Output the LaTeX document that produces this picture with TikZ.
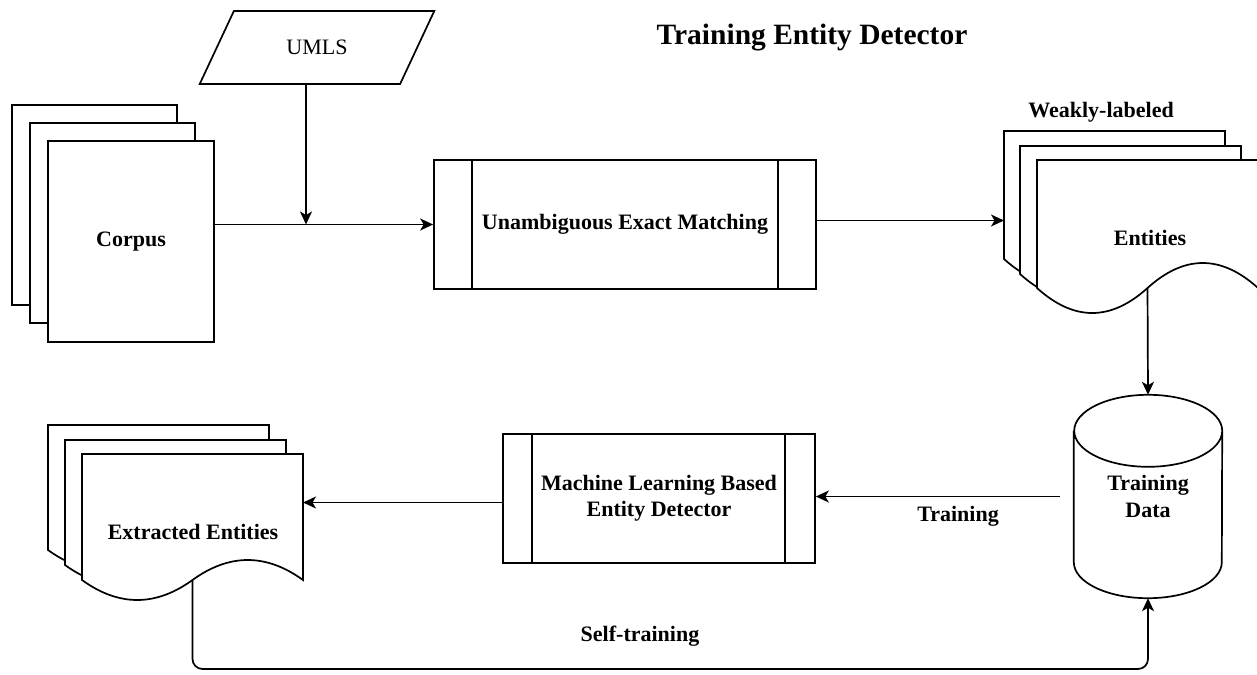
\documentclass[tikz,border=0pt]{standalone}
\usepackage{fontspec}
\setmainfont{Liberation Serif}
\usetikzlibrary{arrows.meta}
\usetikzlibrary{calc}
\usetikzlibrary{shapes.geometric}

\tikzset{
  flow/.style={line width=1.7pt,-{Stealth[length=13pt,width=12pt,inset=3.5pt]}},
  sheet/.style={draw,line width=1.7pt,fill=white},
  txt/.style={font=\fontsize{22}{26}\selectfont\bfseries,align=center},
  procbox/.style={draw,line width=1.7pt,minimum height=129pt,txt},
  bar/.style={line width=1.7pt},
}

% wavy document sheet: name, left, top, width, height, bulge
\newcommand{\wavesheet}[6]{%
  \draw[sheet] (#2,#3) -- ({#2+#4},#3) -- ({#2+#4},{#3+#5})
    .. controls +({-#4/6},{-4*#6/3}) and +({#4/6},{-4*#6/3}) .. ({#2+#4/2},{#3+#5})
    .. controls +({-#4/6},{4*#6/3}) and +({#4/6},{4*#6/3}) .. (#2,{#3+#5})
    -- cycle;
  \coordinate (#1-s) at ({#2+#4/2},{#3+#5});
  \coordinate (#1-w) at (#2,{#3+#5/2});
  \coordinate (#1-e) at ({#2+#4},{#3+#5/2});
}

\begin{document}
\begin{tikzpicture}[x=1pt,y=-1pt]
  \fill[white] (0,0) rectangle (1257,674);
  \useasboundingbox (0,0) rectangle (1257,674);

  \node[font=\fontsize{29.5}{34}\selectfont\bfseries] (title) at (812,38) {Training Entity Detector};

  % input side
  \node[trapezium,trapezium left angle=57,trapezium right angle=123,trapezium stretches,
        draw,line width=1.7pt,minimum width=236pt,minimum height=73pt,
        font=\fontsize{22}{26}\selectfont] (umls) at (317,47.5) {UMLS};
  \node[sheet,minimum width=165pt,minimum height=200pt] (corpusA) at (94.5,205) {};
  \node[sheet,minimum width=165pt,minimum height=200pt] (corpusB) at (112.5,223) {};
  \node[sheet,txt,minimum width=166pt,minimum height=201pt] (corpus) at (131,241.5) {Corpus};

  \node[procbox,minimum width=382pt] (match) at (625,224.5) {Unambiguous Exact Matching};
  \draw[bar] ($(match.north west)+(39,0)$) -- ($(match.south west)+(39,0)$);
  \draw[bar] ($(match.north east)+(-39,0)$) -- ($(match.south east)+(-39,0)$);

  \coordinate (merge) at (306,224.5);
  \draw[flow] (corpus.east |- match.west) -- (match.west);
  \draw[flow] (umls.south -| merge) -- (merge);

  % weakly-labeled entities
  \wavesheet{entA}{1004}{131}{221}{128}{25}
  \wavesheet{entB}{1020}{146}{221}{128}{25}
  \wavesheet{entC}{1037}{160}{221}{128}{25}
  \node[txt] (weakly) at (1101,112) {Weakly-labeled};
  \node[txt] (entities) at (1150,238) {Entities};
  \draw[flow] ([yshift=4pt]match.east) -- ([yshift=4pt]match.east -| entA-w);

  % training data
  \node[txt,minimum width=148pt,minimum height=203pt,inner sep=0pt,
        font=\fontsize{22}{27}\selectfont\bfseries] (data) at (1148,496.5) {Training\\Data};
  \draw[line width=1.7pt] ($(data.north west)+(0,36)$) -- ($(data.south west)+(0,-36)$)
    arc[start angle=180,end angle=360,x radius=74pt,y radius=36pt]
    -- ($(data.north east)+(0,36)$)
    arc[start angle=0,end angle=180,x radius=74pt,y radius=36pt]
    arc[start angle=180,end angle=360,x radius=74pt,y radius=36pt];
  \draw[flow] (entC-s) -- (data.north);

  % detector and output
  \node[procbox,minimum width=312pt] (detector) at (659,498.5) {Machine Learning Based\\Entity Detector};
  \draw[bar] ($(detector.north west)+(30,0)$) -- ($(detector.south west)+(30,0)$);
  \draw[bar] ($(detector.north east)+(-31,0)$) -- ($(detector.south east)+(-31,0)$);

  \wavesheet{extA}{48}{425}{221}{125}{20}
  \wavesheet{extB}{65}{440}{221}{125}{20}
  \wavesheet{extC}{82}{454}{221}{126}{20}
  \node[txt] (extracted) at (193,532) {Extracted Entities};

  \draw[flow,shorten <=14pt] (data.west) -- (detector.east |- data.west);
  \node[txt] (traininglbl) at (958,516) {Training};
  \draw[flow] ([yshift=-4pt]detector.west) -- ([yshift=-4pt]detector.west -| extC-e);

  \draw[flow,rounded corners=10pt] (extC-s) -- ++(0,89) -| (data.south);
  \node[txt] (selflbl) at (640,636) {Self-training};
\end{tikzpicture}
\end{document}
